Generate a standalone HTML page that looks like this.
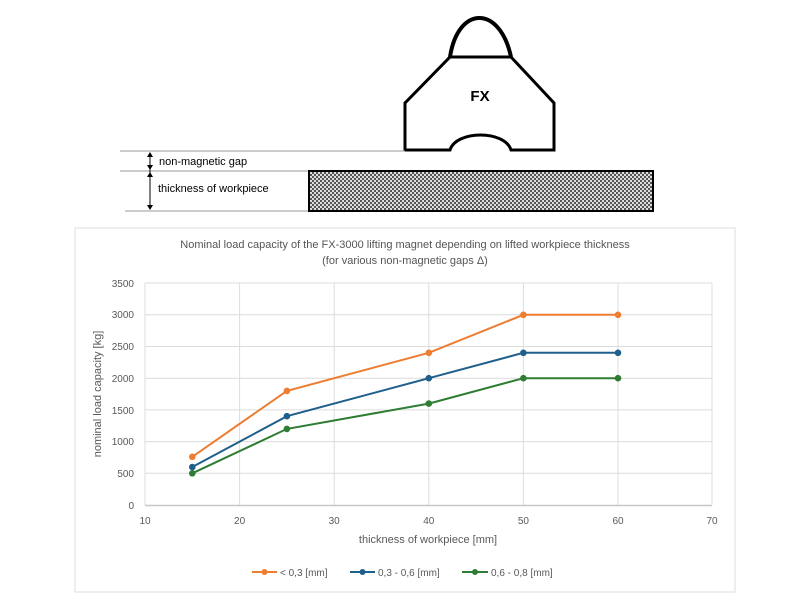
<!DOCTYPE html>
<html><head><style>body{margin:0;background:#fff}svg{display:block}</style></head><body>
<svg width="800" height="600" xmlns="http://www.w3.org/2000/svg" font-family="Liberation Sans, sans-serif">
<defs><pattern id="chk" width="4" height="4" patternUnits="userSpaceOnUse"><rect width="4" height="4" fill="#ddd"/><rect width="2" height="2" fill="#555"/><rect x="2" y="2" width="2" height="2" fill="#555"/></pattern></defs>
<!-- diagram -->
<path d="M450,57 C458,5 500,5 511,57" fill="none" stroke="#000" stroke-width="4"/>
<path d="M450,57 L511,57 L554,103 L554,150 L511,150 C505,130 456,130 450,150 L405,150 L405,103 Z" fill="#fff" stroke="#000" stroke-width="3"/>
<text x="480" y="101" font-size="15" font-weight="bold" text-anchor="middle">FX</text>
<line x1="120" y1="151" x2="405" y2="151" stroke="#999" stroke-width="1"/>
<line x1="120" y1="171" x2="309" y2="171" stroke="#999"/>
<line x1="125" y1="211" x2="309" y2="211" stroke="#999"/>
<rect x="309" y="171" width="344" height="40" fill="url(#chk)" stroke="#000" stroke-width="2"/>
<line x1="150" y1="153" x2="150" y2="209" stroke="#000"/>
<path d="M147,157 L150,152 L153,157 Z M147,165 L150,170 L153,165 Z M147,177 L150,172 L153,177 Z M147,205 L150,210 L153,205 Z"/>
<text x="159" y="165" font-size="11">non-magnetic gap</text>
<text x="158" y="192" font-size="11">thickness of workpiece</text>
<!-- chart -->
<rect x="75" y="228" width="660" height="364" fill="#fff" stroke="#ddd"/>
<text x="405" y="248" font-size="11" fill="#555" text-anchor="middle">Nominal load capacity of the FX-3000 lifting magnet depending on lifted workpiece thickness</text>
<text x="405" y="264" font-size="11" fill="#555" text-anchor="middle">(for various non-magnetic gaps Δ)</text>
<g stroke="#dcdcdc" stroke-width="1">
<line x1="145" x2="712" y1="283" y2="283"/><line x1="145" x2="712" y1="314.8" y2="314.8"/><line x1="145" x2="712" y1="346.5" y2="346.5"/><line x1="145" x2="712" y1="378.2" y2="378.2"/><line x1="145" x2="712" y1="409.9" y2="409.9"/><line x1="145" x2="712" y1="441.6" y2="441.6"/><line x1="145" x2="712" y1="473.3" y2="473.3"/>
<line x1="145" x2="145" y1="283" y2="505"/><line x1="239.6" x2="239.6" y1="283" y2="505"/><line x1="334.2" x2="334.2" y1="283" y2="505"/><line x1="428.8" x2="428.8" y1="283" y2="505"/><line x1="523.4" x2="523.4" y1="283" y2="505"/><line x1="618" x2="618" y1="283" y2="505"/><line x1="712" x2="712" y1="283" y2="505"/>
</g>
<line x1="145" x2="712" y1="505.5" y2="505.5" stroke="#c8c8c8" stroke-width="1.5"/>
<g font-size="10" fill="#595959" text-anchor="end">
<text x="134" y="287">3500</text><text x="134" y="318">3000</text><text x="134" y="350">2500</text><text x="134" y="382">2000</text><text x="134" y="414">1500</text><text x="134" y="445">1000</text><text x="134" y="477">500</text><text x="134" y="509">0</text>
</g>
<g font-size="10" fill="#595959" text-anchor="middle">
<text x="145" y="524">10</text><text x="239.6" y="524">20</text><text x="334.2" y="524">30</text><text x="428.8" y="524">40</text><text x="523.4" y="524">50</text><text x="618" y="524">60</text><text x="712" y="524">70</text>
</g>
<text x="428" y="543" font-size="11" fill="#595959" text-anchor="middle">thickness of workpiece [mm]</text>
<text transform="translate(101,394) rotate(-90)" font-size="11" fill="#595959" text-anchor="middle">nominal load capacity [kg]</text>
<g fill="none" stroke-width="2">
<polyline stroke="#ed7d31" points="192.3,456.8 286.9,390.9 428.8,352.8 523.4,314.8 618,314.8"/>
<polyline stroke="#1f5f8b" points="192.3,467 286.9,416.2 428.8,378.2 523.4,352.8 618,352.8"/>
<polyline stroke="#2e7d32" points="192.3,473.3 286.9,428.9 428.8,403.6 523.4,378.2 618,378.2"/>
</g>
<g fill="#ed7d31"><circle cx="192.3" cy="456.8" r="3.3"/><circle cx="286.9" cy="390.9" r="3.3"/><circle cx="428.8" cy="352.8" r="3.3"/><circle cx="523.4" cy="314.8" r="3.3"/><circle cx="618" cy="314.8" r="3.3"/></g>
<g fill="#1f5f8b"><circle cx="192.3" cy="467" r="3.3"/><circle cx="286.9" cy="416.2" r="3.3"/><circle cx="428.8" cy="378.2" r="3.3"/><circle cx="523.4" cy="352.8" r="3.3"/><circle cx="618" cy="352.8" r="3.3"/></g>
<g fill="#2e7d32"><circle cx="192.3" cy="473.3" r="3.3"/><circle cx="286.9" cy="428.9" r="3.3"/><circle cx="428.8" cy="403.6" r="3.3"/><circle cx="523.4" cy="378.2" r="3.3"/><circle cx="618" cy="378.2" r="3.3"/></g>
<g font-size="10" fill="#595959">
<line x1="252" x2="277" y1="572" y2="572" stroke="#ed7d31" stroke-width="2"/><circle cx="264.5" cy="572" r="3" fill="#ed7d31"/><text x="280" y="576">&lt; 0,3 [mm]</text>
<line x1="350" x2="375" y1="572" y2="572" stroke="#1f5f8b" stroke-width="2"/><circle cx="362.5" cy="572" r="3" fill="#1f5f8b"/><text x="378" y="576">0,3 - 0,6 [mm]</text>
<line x1="462" x2="488" y1="572" y2="572" stroke="#2e7d32" stroke-width="2"/><circle cx="475" cy="572" r="3" fill="#2e7d32"/><text x="491" y="576">0,6 - 0,8 [mm]</text>
</g>
</svg>
</body></html>
